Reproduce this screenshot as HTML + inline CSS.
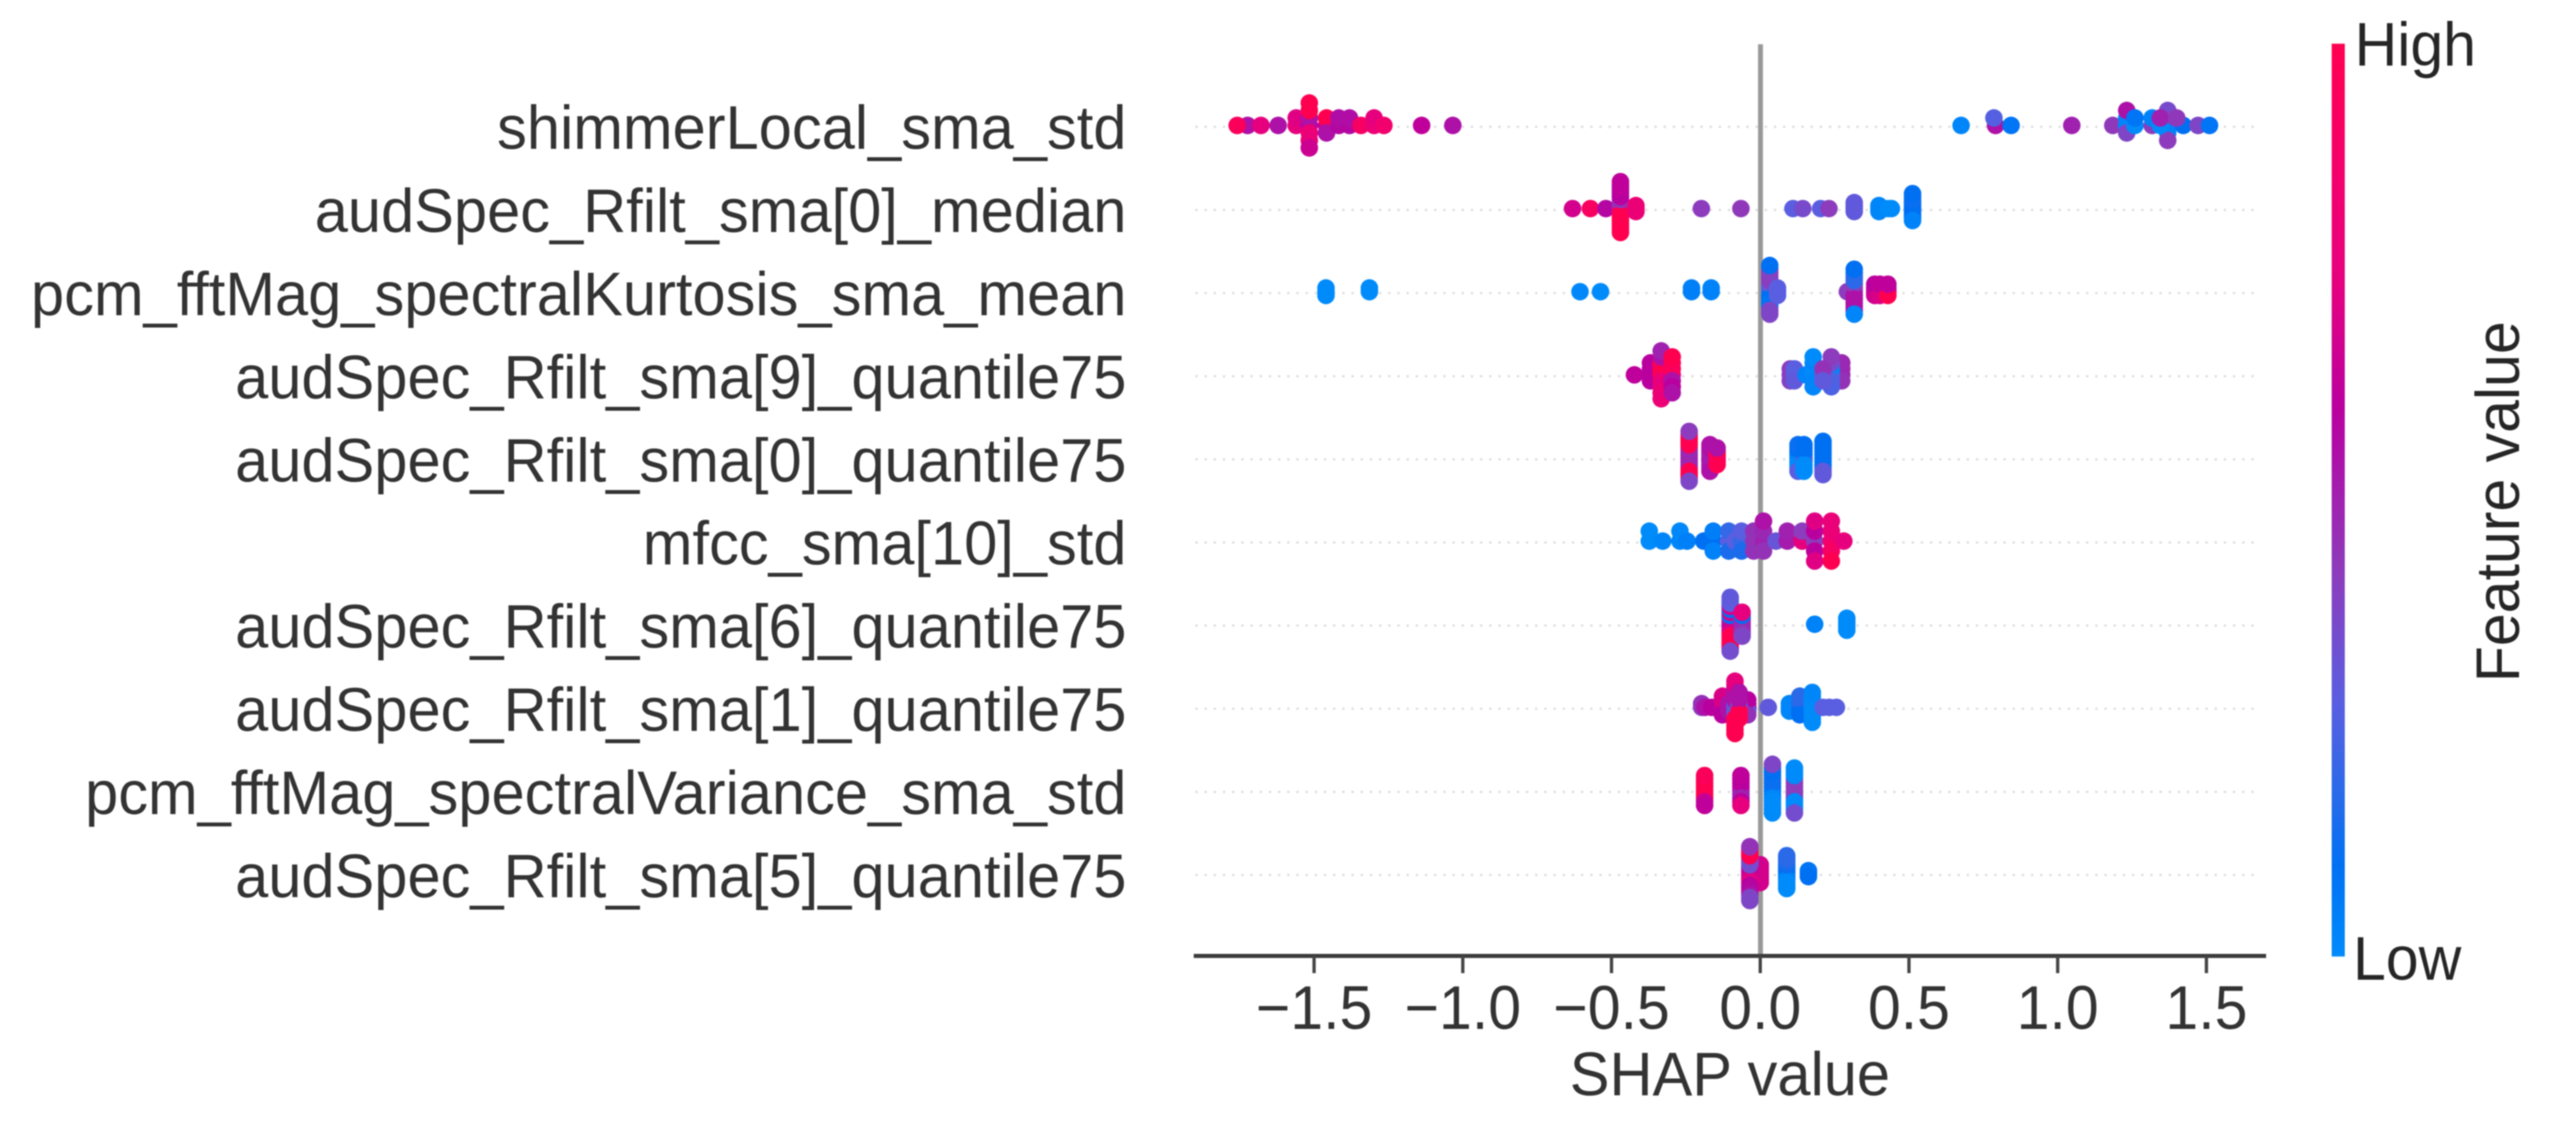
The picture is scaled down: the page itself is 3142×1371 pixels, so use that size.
<!DOCTYPE html>
<html lang="en">
<head>
<meta charset="utf-8">
<title>SHAP summary plot</title>
<style>
html,body{margin:0;padding:0;background:#fff;}
svg{display:block;filter:blur(0.7px);}
text{font-family:"Liberation Sans",Arial,sans-serif;}
</style>
</head>
<body>
<svg id="chart" xmlns="http://www.w3.org/2000/svg" width="3142" height="1371" viewBox="0 0 3142 1371">
  <rect x="0" y="0" width="3142" height="1371" fill="#ffffff"/>
  <defs>
    <linearGradient id="cbarGrad" x1="0" y1="1" x2="0" y2="0"></linearGradient>
  </defs>
  <g id="rowLines"></g>
  <line x1="2147.3" x2="2147.3" y1="54" y2="1166" stroke="#999999" stroke-width="6"></line>
  <g id="points"></g>
  <g id="yLabels"></g>
  <line x1="1456" x2="2764" y1="1166" y2="1166" stroke="#3c3c3c" stroke-width="5"></line>
  <g id="xTicks"></g>
  <text font-size="72" fill="#333333" text-anchor="middle" transform="translate(2110 1336) scale(1.01 1.05)">SHAP value</text>
  <rect x="2844" y="53.3" width="16" height="1113.4" fill="url(#cbarGrad)"></rect>
  <text font-size="72" fill="#262626" transform="translate(2872 80) scale(1 1.05)">High</text>
  <text font-size="72" fill="#262626" transform="translate(2870 1195) scale(1 1.05)">Low</text>
  <text font-size="72" fill="#262626" text-anchor="middle" transform="translate(3072.7 612) rotate(-90) scale(1 1.05)">Feature value</text>
</svg>
<script>
const featureNames = ["shimmerLocal_sma_std","audSpec_Rfilt_sma[0]_median","pcm_fftMag_spectralKurtosis_sma_mean","audSpec_Rfilt_sma[9]_quantile75","audSpec_Rfilt_sma[0]_quantile75","mfcc_sma[10]_std","audSpec_Rfilt_sma[6]_quantile75","audSpec_Rfilt_sma[1]_quantile75","pcm_fftMag_spectralVariance_sma_std","audSpec_Rfilt_sma[5]_quantile75"];
const xTickValues = [-1.5,-1.0,-0.5,0,0.5,1.0,1.5];
const xTickLabels = ["\u22121.5","\u22121.0","\u22120.5","0.0","0.5","1.0","1.5"];

const shapRow0 = [-1.7235,-1.7585,-1.6786,-1.6207,-1.5601,-1.5601,-1.516,-1.516,-1.516,-1.516,-1.516,-1.516,-1.516,-1.4581,-1.4581,-1.4581,-1.4168,-1.4168,-1.3809,-1.3809,-1.3423,-1.2982,-1.2982,-1.2652,-1.1384,-1.0336,0.6753,0.7911,0.7856,0.8434,1.0474,1.1852,1.2321,1.2321,1.2321,1.2321,1.2596,1.2596,1.3175,1.3175,1.3699,1.3699,1.3699,1.3699,1.3699,1.3451,1.3451,1.4223,1.4002,1.4719,1.5105];
const featRow0 = [0.55,0.95,0.75,0.55,0.75,0.72,0.58,0.55,0.8,1,0.78,1,0.66,0.65,1,0.55,0.58,0.56,0.58,0.56,0.9,0.8,0.75,0.85,0.62,0.55,0.02,0.55,0.27,0.08,0.5,0.43,0.02,0.02,0.38,0.55,0,0.08,0.42,0.03,0.35,0.45,0.03,0.36,0.42,0,0.5,0.1,0.43,0.38,0.08];

const shapRow1 = [-0.631,-0.571,-0.519,-0.47,-0.47,-0.47,-0.47,-0.47,-0.47,-0.47,-0.47,-0.47,-0.47,-0.47,-0.47,-0.47,-0.47,-0.47,-0.47,-0.47,-0.47,-0.418,-0.418,-0.418,-0.198,-0.065,0.11,0.143,0.203,0.231,0.316,0.316,0.316,0.316,0.399,0.399,0.399,0.43,0.441,0.512,0.512,0.512,0.512,0.512,0.512,0.512,0.512,0.512,0.512];
const featRow1 = [0.68,0.92,0.58,0.45,0.45,0.85,0.45,1,0.45,1,0.6,1,0.6,1,0.6,1,0.62,1,0.62,1,0.62,0.8,0.8,0.8,0.42,0.43,0.28,0.36,0.28,0.42,0.3,0.3,0.3,0.3,0,0.02,0.02,0,0,0.1,0.1,0.1,0.1,0.1,0.12,0.1,0.12,0.03,0.1];

const shapRow2 = [-1.46,-1.46,-1.46,-1.314,-1.314,-0.606,-0.537,-0.231,-0.231,-0.165,-0.165,0.032,0.032,0.032,0.032,0.032,0.032,0.032,0.032,0.032,0.032,0.032,0.032,0.032,0.032,0.058,0.058,0.058,0.293,0.316,0.316,0.316,0.316,0.316,0.316,0.316,0.316,0.316,0.316,0.316,0.316,0.316,0.385,0.385,0.385,0.385,0.402,0.402,0.402,0.402,0.429,0.429,0.429,0.429];
const featRow2 = [0,0,0,0,0,0.01,0,0.04,0.04,0.03,0.03,0.25,0.3,0.1,0.3,0.1,0.4,0.08,0.42,0.08,0.4,0.38,0.4,0.38,0.1,0.28,0.28,0.28,0.42,0.42,0.42,0.55,0.42,0.55,0.18,0.55,0.18,0.55,0.18,0.55,0.1,0.02,0.62,0.62,0.66,0.6,0.62,0.62,0.7,0.62,0.62,0.62,1,0.62];

const shapRow3 = [-0.423,-0.369,-0.369,-0.369,-0.369,-0.333,-0.333,-0.333,-0.333,-0.333,-0.333,-0.333,-0.333,-0.333,-0.296,-0.296,-0.296,-0.296,-0.296,-0.296,-0.296,0.101,0.101,0.101,0.115,0.115,0.115,0.154,0.178,0.178,0.178,0.178,0.178,0.178,0.274,0.274,0.274,0.274,0.239,0.239,0.239,0.239,0.239,0.239,0.211,0.211,0.211];
const featRow3 = [0.62,0.6,0.6,0.6,0.6,1,1,0.8,1,0.75,0.55,0.8,0.5,0.8,0.75,0.95,0.55,0.95,0.6,1,0.55,0.42,0.42,0.4,0.3,0.28,0.3,0.03,0,0,0.02,0.02,0.02,0,0.48,0.48,0.45,0.48,0.28,0.02,0.25,0.35,0.25,0.42,0.3,0.45,0.3];

const shapRow4 = [-0.239,-0.239,-0.239,-0.239,-0.239,-0.239,-0.239,-0.239,-0.239,-0.239,-0.239,-0.239,-0.239,-0.239,-0.239,-0.239,-0.169,-0.169,-0.169,-0.169,-0.169,-0.169,-0.169,-0.169,-0.169,-0.145,-0.145,-0.145,-0.145,-0.145,-0.145,0.127,0.127,0.127,0.127,0.127,0.127,0.127,0.127,0.127,0.147,0.147,0.147,0.147,0.147,0.147,0.147,0.147,0.147,0.211,0.211,0.211,0.211,0.211,0.211,0.211,0.211,0.211,0.211,0.211];
const featRow4 = [0.5,0.48,0.5,0.48,0.48,0.48,0.48,1,1,1,1,1,1,1,0.38,0.42,0.52,0.52,0.52,0.52,0.52,0.55,0.52,0.55,0.55,0.9,1,0.8,1,1,0.55,0.03,0.03,0,0.08,0,0.1,0,0.12,0.28,0.1,0.1,0.25,0.1,0,0.1,0,0.1,0,0.1,0.1,0.1,0.1,0.1,0.1,0.1,0.1,0.3,0.1,0.3];

const shapRow5 = [-0.373,-0.373,-0.328,-0.27,-0.27,-0.246,-0.19,-0.158,-0.158,-0.158,-0.106,-0.106,-0.106,-0.085,-0.063,-0.063,-0.063,-0.022,-0.022,-0.022,0.011,0.011,0.011,0.011,0.053,0.091,0.091,0.141,0.141,0.183,0.183,0.183,0.183,0.183,0.239,0.239,0.239,0.239,0.239,0.281];
const featRow5 = [0,0,0.02,0.02,0.01,0.04,0.1,0.1,0.05,0.03,0.28,0.2,0.15,0.28,0.2,0.28,0.15,0.45,0.45,0.45,0.5,0.48,0.45,0.55,0.32,0.52,0.5,0.75,0.42,0.42,0.6,0.6,0.72,0.72,0.85,0.8,0.9,0.78,1,0.75];

const shapRow6 = [-0.101,-0.101,-0.101,-0.101,-0.101,-0.101,-0.101,-0.101,-0.101,-0.101,-0.101,-0.101,-0.101,-0.101,-0.101,-0.101,-0.101,-0.101,-0.101,-0.061,-0.061,-0.061,-0.061,-0.061,-0.061,-0.061,-0.061,-0.061,0.183,0.291,0.291,0.291,0.291,0.291];
const featRow6 = [0.6,0.6,0.6,0.5,0.65,0.1,0.7,0.7,1,0.1,1,0.7,1,0.28,1,0.28,1,0.3,0.35,0.5,0.5,0.48,0.48,0.48,0.1,0.45,0.75,0.38,0.03,0,0,0,0,0];

const shapRow7 = [-0.197,-0.197,-0.186,-0.163,-0.127,-0.127,-0.127,-0.127,-0.127,-0.127,-0.106,-0.106,-0.106,-0.042,-0.042,-0.042,-0.042,-0.042,-0.085,-0.085,-0.085,-0.085,-0.085,-0.085,-0.085,-0.085,-0.085,-0.085,-0.085,-0.085,-0.085,-0.085,-0.085,-0.071,-0.071,-0.071,-0.071,-0.071,-0.071,-0.071,-0.071,0.027,0.098,0.098,0.098,0.133,0.133,0.133,0.133,0.133,0.133,0.175,0.175,0.175,0.175,0.175,0.175,0.175,0.175,0.175,0.211,0.232,0.256];
const featRow7 = [0.42,0.45,0.55,0.6,0.65,0.65,0.6,0.7,0.6,0.7,0.55,0.55,0.55,0.6,0.62,0.3,0.6,0.45,0.32,0.3,0.32,0.55,0.3,0.55,1,0.55,1,0.55,1,0.7,1,0.75,1,0.3,0.3,1,0.55,1,0.55,1,0.55,0.3,0.02,0.02,0.02,0.18,0.18,0.1,0.18,0.1,0.18,0,0,0,0,0,0,0,0.02,0,0.28,0.28,0.28];

const shapRow8 = [-0.187,-0.187,-0.187,-0.187,-0.187,-0.187,-0.187,-0.187,-0.187,-0.065,-0.065,-0.065,-0.065,-0.065,-0.065,-0.065,-0.065,-0.065,0.041,0.041,0.041,0.041,0.041,0.041,0.041,0.041,0.041,0.041,0.041,0.041,0.041,0.041,0.115,0.115,0.115,0.115,0.115,0.115,0.115,0.115,0.115,0.115,0.115,0.115,0.115];
const featRow8 = [1,1,1,1,1,1,0.65,0.95,0.62,0.52,0.6,0.5,0.6,0.5,0.6,0.6,0.62,0.75,0.12,0.12,0.05,0.12,0.02,0.12,0,0.12,0,0.1,0,0.1,0,0.38,0.42,0.42,0.42,0.42,0.42,0.42,0,0,0,0,0,0,0.35];

const shapRow9 = [0,0,0,0,0,0,0,-0.035,-0.035,-0.035,-0.035,-0.035,-0.035,-0.035,-0.035,-0.035,-0.035,-0.035,-0.035,-0.035,-0.035,-0.035,-0.035,-0.035,-0.035,-0.035,0.089,0.089,0.089,0.089,0.089,0.089,0.089,0.089,0.089,0.089,0.089,0.089,0.162,0.162,0.162];
const featRow9 = [0.68,0.68,0.68,0.68,0.68,0.68,0.68,0.65,0.65,0.65,0.62,0.7,0.35,0.72,0.35,0.6,0.35,0.58,1,0.58,1,0.55,1,0.38,0.45,0.38,0.1,0.1,0.05,0.1,0.03,0.12,0,0.15,0,0.18,0,0.18,0.1,0.08,0.1];

const shapByRow = [shapRow0,shapRow1,shapRow2,shapRow3,shapRow4,shapRow5,shapRow6,shapRow7,shapRow8,shapRow9];
const featByRow = [featRow0,featRow1,featRow2,featRow3,featRow4,featRow5,featRow6,featRow7,featRow8,featRow9];

const colorStops = [[0,0,139,251],[0.1,0,112,243],[0.18,42,106,232],[0.28,90,94,224],[0.42,140,60,188],[0.6,185,0,159],[0.74,230,0,127],[0.88,245,0,104],[1,255,0,81]];

const SVG_NS = "http://www.w3.org/2000/svg";
const ROW_TOP = 154.7, ROW_STEP = 101.4, X_ZERO = 2147, X_UNIT = 362.8, DOT_R = 10.7;
function xScale(v){ return X_ZERO + X_UNIT * v; }
function yScale(i){ return ROW_TOP + ROW_STEP * i; }

function colorFor(t){
  for(let k=1;k<colorStops.length;k++){
    const a=colorStops[k-1], b=colorStops[k];
    if(t<=b[0]){
      const f=(t-a[0])/(b[0]-a[0]);
      return "rgb("+Math.round(a[1]+(b[1]-a[1])*f)+","+Math.round(a[2]+(b[2]-a[2])*f)+","+Math.round(a[3]+(b[3]-a[3])*f)+")";
    }
  }
  return "rgb(255,0,81)";
}

/* beeswarm layout: quantise into 100 bins per row, stack alternately up and down */
function swarmOffsets(shaps){
  const lo=Math.min.apply(null,shaps), hi=Math.max.apply(null,shaps);
  const quant=shaps.map(function(v){return Math.round(100*(v-lo)/(hi-lo+1e-8));});
  const order=shaps.map(function(v,i){return i;}).sort(function(a,b){return (quant[a]-quant[b])||(a-b);});
  const ys=new Array(shaps.length).fill(0);
  let layer=0,last=-1;
  order.forEach(function(ind){
    if(quant[ind]!==last){layer=0;}
    ys[ind]=Math.ceil(layer/2)*((layer%2)*2-1);
    layer++;
    last=quant[ind];
  });
  const peak=Math.max.apply(null,ys)+1;
  const spacing=0.9*0.4*ROW_STEP/peak;
  return ys.map(function(y){return y*spacing;});
}

const gradEl=document.getElementById("cbarGrad");
colorStops.forEach(function(s){
  const st=document.createElementNS(SVG_NS,"stop");
  st.setAttribute("offset",s[0]);
  st.setAttribute("stop-color","rgb("+s[1]+","+s[2]+","+s[3]+")");
  gradEl.appendChild(st);
});

const lineGroup=document.getElementById("rowLines");
const pointGroup=document.getElementById("points");
const labelGroup=document.getElementById("yLabels");
const tickGroup=document.getElementById("xTicks");

featureNames.forEach(function(name,i){
  const guide=document.createElementNS(SVG_NS,"line");
  guide.setAttribute("x1",1458);
  guide.setAttribute("x2",2756);
  guide.setAttribute("y1",yScale(i));
  guide.setAttribute("y2",yScale(i));
  guide.setAttribute("stroke","#dcdcdc");
  guide.setAttribute("stroke-width","2.6");
  guide.setAttribute("stroke-dasharray","2.8 8.4");
  
  
  lineGroup.appendChild(guide);

  const lab=document.createElementNS(SVG_NS,"text");
  lab.setAttribute("transform","translate(1374 "+(yScale(i)+27)+") scale(1.01 1.05)");
  lab.setAttribute("text-anchor","end");
  lab.setAttribute("font-size","72");
  lab.setAttribute("fill","#333333");
  lab.textContent=name;
  
  
  labelGroup.appendChild(lab);

  const shaps=shapByRow[i], feats=featByRow[i], offs=swarmOffsets(shaps);
  shaps.forEach(function(v,j){
    const c=document.createElementNS(SVG_NS,"circle");
    c.setAttribute("cx",xScale(v));
    c.setAttribute("cy",yScale(i)-1.7-offs[j]);
    c.setAttribute("r",DOT_R);
    c.setAttribute("fill",colorFor(feats[j]));
    
    
    pointGroup.appendChild(c);
  });
});

xTickValues.forEach(function(v,i){
  const t=document.createElementNS(SVG_NS,"line");
  t.setAttribute("x1",xScale(v));
  t.setAttribute("x2",xScale(v));
  t.setAttribute("y1",1166);
  t.setAttribute("y2",1187);
  t.setAttribute("stroke","#444444");
  t.setAttribute("stroke-width","4");
  
  
  tickGroup.appendChild(t);

  const l=document.createElementNS(SVG_NS,"text");
  l.setAttribute("transform","translate("+xScale(v)+" 1255) scale(1 1.05)");
  l.setAttribute("text-anchor","middle");
  l.setAttribute("font-size","72");
  l.setAttribute("fill","#333333");
  l.textContent=xTickLabels[i];
  
  
  tickGroup.appendChild(l);
});
</script>
</body>
</html>
